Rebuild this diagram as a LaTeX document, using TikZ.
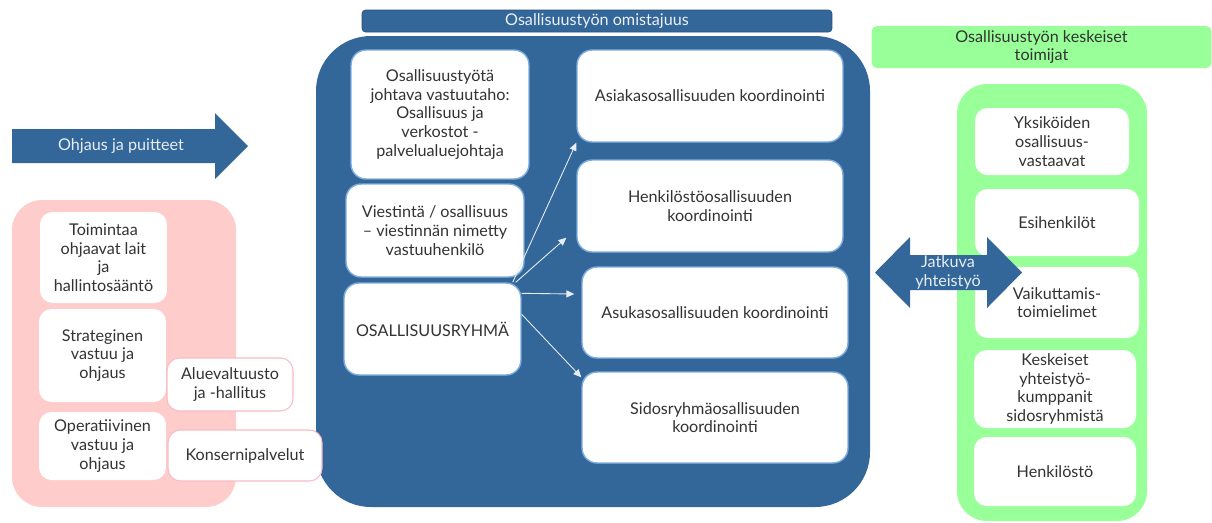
\documentclass[tikz,border=0pt]{standalone}
\usepackage{fontspec}
\setmainfont{Lato}
\usepackage{xcolor}
\usepackage{tikz}
\usetikzlibrary{arrows.meta}

\definecolor{ownblue}{HTML}{336699}
\definecolor{pinkbg}{HTML}{FFCCCC}
\definecolor{pinkline}{HTML}{F7BCC6}
\definecolor{greenbg}{HTML}{99FF99}
\definecolor{boxline}{HTML}{7FAEE0}
\definecolor{textgray}{HTML}{333333}

\tikzset{
  card/.style={fill=white, rounded corners=0.25cm, inner sep=1pt, align=center,
    text=textgray, font=\fontsize{9.2}{10.6}\selectfont},
  bluecard/.style={card, draw=boxline, line width=0.8pt, rounded corners=0.3cm},
  pinkcard/.style={card, draw=pinkline, line width=0.6pt},
  link/.style={draw=white!88!ownblue, line width=0.5pt,
    -{Triangle[length=4.5pt,width=4pt]}},
  banner/.style={align=center, font=\fontsize{9.2}{10.6}\selectfont}
}

\begin{document}
\begin{tikzpicture}[x=0.02cm,y=-0.02cm]
    \useasboundingbox (0,0) rectangle (1212,522);
    % containers
    \fill[pinkbg,rounded corners=0.6cm] (12,200) rectangle (236,507);
    \fill[ownblue,rounded corners=1.1cm] (316,36) rectangle (870,507);
    \fill[greenbg,rounded corners=0.6cm] (957,84) rectangle (1147,521);
    \node[banner,fill=ownblue,draw=ownblue!80!black,line width=0.4pt,rounded corners=2pt,
      text=white!90!ownblue,minimum width=9.4cm,minimum height=0.44cm,inner sep=0pt]
      (omist) at (597,21) {Osallisuustyön omistajuus};
    \node[banner,fill=greenbg,rounded corners=3pt,text=textgray,
      minimum width=6.8cm,minimum height=0.84cm,inner sep=0pt]
      (toimijat) at (1041.5,47) {Osallisuustyön keskeiset\\toimijat};

    % left side
    \node[card,minimum width=2.54cm,minimum height=1.82cm] (lait) at (103.5,257.5)
      {Toimintaa\\ohjaavat lait\\ja\\hallintosääntö};
    \node[card,minimum width=2.54cm,minimum height=1.86cm] (strat) at (102.5,355.5)
      {Strateginen\\vastuu ja\\ohjaus};
    \node[card,minimum width=2.54cm,minimum height=1.36cm] (oper) at (102.5,446)
      {Operatiivinen\\vastuu ja\\ohjaus};
    \node[pinkcard,minimum width=2.52cm,minimum height=1.06cm] (alue) at (230,384.5)
      {Aluevaltuusto\\ja -hallitus};
    \node[pinkcard,minimum width=3.08cm,minimum height=1.02cm] (kons) at (245,455.5)
      {Konsernipalvelut};

    % middle
    \node[bluecard,minimum width=3.56cm,minimum height=2.58cm] (johto) at (440,114.5)
      {Osallisuustyötä\\johtava vastuutaho:\\Osallisuus ja\\verkostot -\\palvelualuejohtaja};
    \node[bluecard,minimum width=3.56cm,minimum height=1.86cm] (viest) at (435,230.5)
      {Viestintä / osallisuus\\– viestinnän nimetty\\vastuuhenkilö};
    \node[bluecard,minimum width=3.54cm,minimum height=1.84cm] (ryhma) at (432.5,329)
      {OSALLISUUSRYHMÄ};
    \node[bluecard,minimum width=5.32cm,minimum height=1.84cm] (asiakas) at (710,96)
      {Asiakasosallisuuden koordinointi};
    \node[bluecard,minimum width=5.32cm,minimum height=1.84cm] (henk) at (710,206)
      {Henkilöstöosallisuuden\\koordinointi};
    \node[bluecard,minimum width=5.32cm,minimum height=1.82cm] (asukas) at (715,312.5)
      {Asukasosallisuuden koordinointi};
    \node[bluecard,minimum width=5.32cm,minimum height=1.82cm] (sidos) at (715,417.5)
      {Sidosryhmäosallisuuden\\koordinointi};

    \draw[link] ([xshift=-0.18cm]ryhma.north east) -- (asiakas.south west);
    \draw[link] ([xshift=-0.12cm]ryhma.north east) -- ([xshift=-0.2cm,yshift=0.3cm]henk.south west);
    \draw[link] ([yshift=-0.22cm]ryhma.north east) -- ([xshift=-0.14cm,yshift=0.37cm]asukas.west);
    \draw[link] ([yshift=-0.64cm]ryhma.north east) -- ([yshift=-0.12cm]sidos.north west);

    % right side
    \node[card,minimum width=3.08cm,minimum height=1.34cm] (yks) at (1052,141.5)
      {Yksiköiden\\osallisuus-\\vastaavat};
    \node[card,minimum width=3.28cm,minimum height=1.34cm] (esih) at (1057,222.5)
      {Esihenkilöt};
    \node[card,minimum width=3.28cm,minimum height=1.42cm] (vaik) at (1057,302.5)
      {Vaikuttamis-\\toimielimet};
    \node[card,minimum width=3.24cm,minimum height=1.56cm] (kesk) at (1055,389)
      {Keskeiset\\yhteistyö-\\kumppanit\\sidosryhmistä};
    \node[card,minimum width=3.24cm,minimum height=1.38cm] (hlo) at (1055,471.5)
      {Henkilöstö};

    % block arrows
    \fill[ownblue] (875,272.5) -- (910,237) -- (910,255) -- (987,255) -- (987,237)
      -- (1022,272.5) -- (987,308) -- (987,290) -- (910,290) -- (910,308) -- cycle;
    \node[banner,text=white!88!ownblue] (jatkuva) at (948,272.5) {Jatkuva\\yhteistyö};
    \fill[ownblue] (12,129) -- (215,129) -- (215,113) -- (248,146) -- (215,179)
      -- (215,163) -- (12,163) -- cycle;
    \node[banner,text=white!88!ownblue] (ohjaus) at (121,146) {Ohjaus ja puitteet};
\end{tikzpicture}
\end{document}
